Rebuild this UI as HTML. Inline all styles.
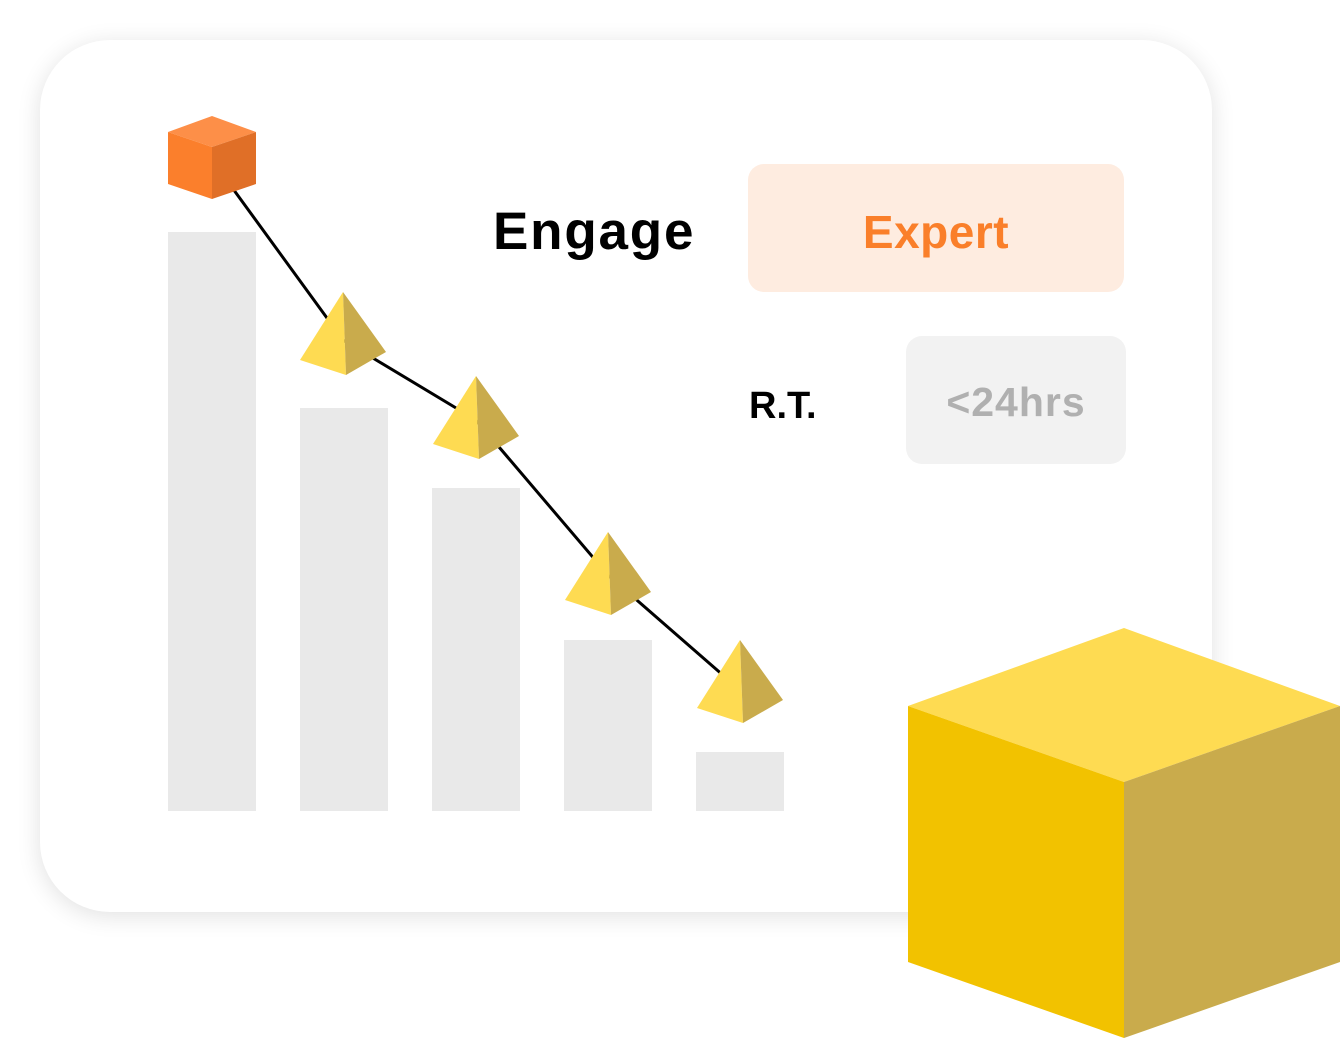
<!DOCTYPE html>
<html><head><style>
body{margin:0;width:1340px;height:1039px;background:#fff;overflow:hidden;position:relative;font-family:"Liberation Sans",sans-serif}
.card{position:absolute;left:40px;top:40px;width:1172px;height:872px;border-radius:70px;background:#fff;box-shadow:0 4px 24px rgba(0,0,0,0.12)}
.t{position:absolute;white-space:nowrap;font-weight:bold}
.box{position:absolute;border-radius:16px;display:flex;align-items:center;justify-content:center;font-weight:bold;box-sizing:border-box}
</style></head><body>
<div class="card"></div>
<svg style="position:absolute;left:0;top:0" width="1340" height="1039">
<g fill="#e9e9e9">
<rect x="168" y="232" width="88" height="579"/>
<rect x="300" y="408" width="88" height="403"/>
<rect x="432" y="488" width="88" height="323"/>
<rect x="564" y="640" width="88" height="171"/>
<rect x="696" y="752" width="88" height="59"/>
</g>
<polyline points="212,160 343,340 476,420 608,575 740,690" fill="none" stroke="#000" stroke-width="3"/>
<polygon points="212,116 168,132 212,147 256,132" fill="#fd8f48"/>
<polygon points="168,132 212,147 212,199 168,184" fill="#fb7f2c"/>
<polygon points="256,132 212,147 212,199 256,184" fill="#e06f27"/>
<g id="p">
<polygon points="343,292 300,360 346,375" fill="#fedb52"/>
<polygon points="343,292 346,375 386,352" fill="#c9ab4c"/>
</g>
<use href="#p" transform="translate(133,84)"/>
<use href="#p" transform="translate(265,240)"/>
<use href="#p" transform="translate(397,348)"/>
<polygon points="1124,628 908,706 1124,782 1340,706" fill="#fedb52"/>
<polygon points="908,706 1124,782 1124,1038 908,962" fill="#f2c200"/>
<polygon points="1340,706 1124,782 1124,1038 1340,962" fill="#c9ab4c"/>
</svg>
<div class="t" style="left:493px;top:201px;font-size:53px;letter-spacing:1.8px;color:#000">Engage</div>
<div class="box" style="left:748px;top:164px;width:376px;height:128px;background:#feece0;color:#fa7f2a;font-size:46px;letter-spacing:0.5px;padding-top:8px">Expert</div>
<div class="t" style="left:749px;top:385px;font-size:38px;color:#000">R.T.</div>
<div class="box" style="left:906px;top:336px;width:220px;height:128px;background:#f2f2f2;color:#b0b0b0;font-size:41px;letter-spacing:1px;padding-top:4px">&lt;24hrs</div>
</body></html>
